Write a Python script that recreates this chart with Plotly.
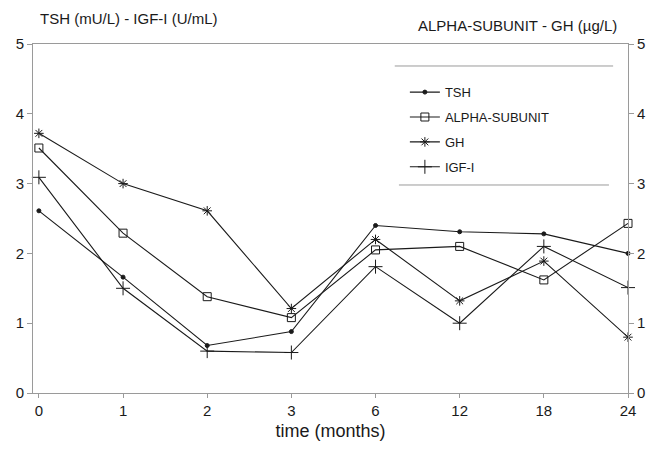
import plotly.graph_objects as go

months = ["0", "1", "2", "3", "6", "12", "18", "24"]
tsh = [2.61, 1.66, 0.68, 0.88, 2.40, 2.31, 2.28, 2.00]
alpha_subunit = [3.51, 2.29, 1.38, 1.08, 2.05, 2.10, 1.62, 2.43]
gh = [3.72, 3.00, 2.61, 1.21, 2.20, 1.32, 1.89, 0.80]
igf1 = [3.09, 1.50, 0.60, 0.58, 1.81, 1.00, 2.10, 1.51]
y_ticks = [0, 1, 2, 3, 4, 5]

FONT = "Liberation Sans, Arial, Helvetica, sans-serif"
INK = "#1a1a1a"
AX = "#9a9a9a"

fig = go.Figure()

def add(name, vals, symbol, size, yaxis, group):
    fig.add_trace(go.Scatter(
        x=months, y=vals, name=name, yaxis=yaxis,
        mode="lines+markers", legendgroup=group,
        line=dict(color=INK, width=1.1),
        marker=dict(symbol=symbol, size=size, color=INK,
                    line=dict(color=INK, width=1)),
        cliponaxis=False,
    ))

add("TSH", tsh, "circle", 4, "y", "a")
add("ALPHA-SUBUNIT", alpha_subunit, "square-open", 8, "y2", "b")
add("GH", gh, "asterisk-open", 8, "y2", "c")
add("IGF-I", igf1, "cross-thin-open", 10, "y", "d")

fig.update_layout(
    width=666, height=453,
    margin=dict(l=33, r=38, t=44, b=60),
    paper_bgcolor="white", plot_bgcolor="white",
    font=dict(family=FONT, color=INK, size=14),
    showlegend=True,
    hovermode=False,
    legend=dict(
        x=0.625, y=0.905, xanchor="left", yanchor="top",
        bgcolor="rgba(0,0,0,0)", borderwidth=0,
        font=dict(size=13, family=FONT, color=INK),
        tracegroupgap=5, itemwidth=30,
    ),
    xaxis=dict(
        type="category", range=[-0.07, 7.0],
        showgrid=False, zeroline=False,
        showline=True, linecolor=AX, linewidth=1, mirror=True,
        ticks="outside", ticklen=4, tickcolor=AX,
        tickfont=dict(size=15, family=FONT),
        title=dict(text="time (months)", font=dict(size=18, family=FONT), standoff=6),
    ),
    yaxis=dict(
        range=[0, 5], tickvals=y_ticks,
        showgrid=False, zeroline=False,
        showline=True, linecolor=AX, linewidth=1,
        ticks="outside", ticklen=5, tickcolor=AX,
        tickfont=dict(size=15, family=FONT),
    ),
    yaxis2=dict(
        range=[0, 5], tickvals=y_ticks, overlaying="y", side="right",
        showgrid=False, zeroline=False,
        showline=True, linecolor=AX, linewidth=1,
        ticks="outside", ticklen=5, tickcolor=AX,
        tickfont=dict(size=15, family=FONT),
    ),
    annotations=[
        dict(text="TSH (mU/L) - IGF-I (U/mL)", xref="paper", yref="paper",
             x=0.008, y=1.074, xanchor="left", yanchor="middle",
             showarrow=False, font=dict(size=15, family=FONT)),
        dict(text="ALPHA-SUBUNIT - GH (µg/L)", xref="paper", yref="paper",
             x=0.985, y=1.054, xanchor="right", yanchor="middle",
             showarrow=False, font=dict(size=15, family=FONT)),
    ],
    shapes=[
        dict(type="line", xref="paper", yref="paper", x0=0.608, x1=0.975,
             y0=0.937, y1=0.937, line=dict(color=AX, width=1)),
        dict(type="line", xref="paper", yref="paper", x0=0.615, x1=0.968,
             y0=0.596, y1=0.596, line=dict(color=AX, width=1)),
    ],
)

fig.write_html("out.html", config={"displayModeBar": False},
               post_script="document.body.style.margin='0';")
